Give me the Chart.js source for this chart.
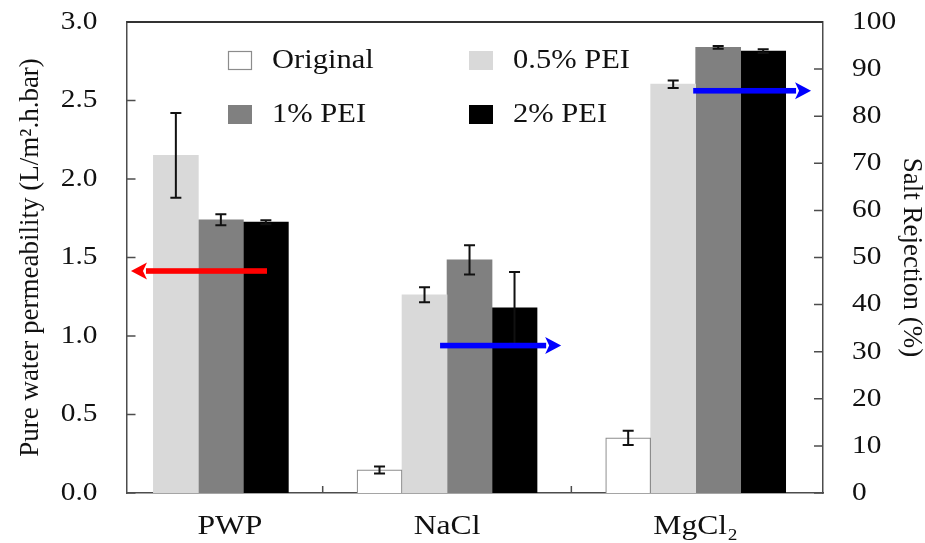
<!DOCTYPE html>
<html><head><meta charset="utf-8">
<script src="https://cdn.jsdelivr.net/npm/chart.js@4/dist/chart.umd.min.js"></script>
<style>html,body{margin:0;padding:0;background:#fff}canvas{display:block}</style>
</head><body>
<canvas id="c" width="925" height="543"></canvas>
<script>
// ---------------- data ----------------
const categories = ['PWP', 'NaCl', 'MgCl₂'];
const seriesNames = ['Original', '0.5% PEI', '1% PEI', '2% PEI'];
// Pure water permeability (L/m².h.bar) – PWP group, left axis
const pwpValues = [null, 2.15, 1.74, 1.725];
const pwpErrors = [null, 0.27, 0.035, 0.013];
// Salt rejection (%) – right axis
const naclRejection = [4.9, 42.1, 49.5, 39.3];
const naclErrors = [0.75, 1.6, 3.1, 7.6];
const mgcl2Rejection = [11.7, 86.8, 94.6, 93.8];
const mgcl2Errors = [1.5, 0.8, 0.3, 0.4];
// tick labels
const leftTicks = [0, 0.5, 1, 1.5, 2, 2.5, 3];
const rightTicks = [0, 10, 20, 30, 40, 50, 60, 70, 80, 90, 100];
// annotation arrows (axis units)
const arrows = [
  { axis: 'y',  y: 1.414, from: 0.276, to: -0.271, color: '#ff0000' },
  { axis: 'y1', y: 31.3,  from: 0.972, to: 1.459,  color: '#0000ff' },
  { axis: 'y1', y: 85.4,  from: 1.99,  to: 2.464,  color: '#0000ff' }
];

// ---------------- styles ----------------
const FONT = "'Liberation Serif', 'Times New Roman', serif";
const fills = ['#ffffff', '#d9d9d9', '#808080', '#000000'];
const edges = ['#8c8c8c', '#d9d9d9', '#808080', '#000000'];
const edgeW = [1.2, 0, 0, 0];
const TEXT = '#111';

// slightly wide glyphs like the reference (horizontal text only)
const STRETCH = 1.13;
const rawFill = CanvasRenderingContext2D.prototype.fillText;
CanvasRenderingContext2D.prototype.fillText = function (t, x, y, mw) {
  const m = this.getTransform();
  if (Math.abs(m.b) > 1e-6 || Math.abs(m.c) > 1e-6) {
    return mw === undefined ? rawFill.call(this, t, x, y) : rawFill.call(this, t, x, y, mw);
  }
  this.save();
  this.translate(x, y);
  this.scale(STRETCH, 1);
  if (mw === undefined) rawFill.call(this, t, 0, 0); else rawFill.call(this, t, 0, 0, mw / STRETCH);
  this.restore();
};

const datasets = [];
seriesNames.forEach((name, s) => {
  const common = {
    stack: name,
    backgroundColor: fills[s],
    borderColor: edges[s],
    borderWidth: edgeW[s],
    barThickness: 45
  };
  datasets.push(Object.assign({
    label: name, yAxisID: 'y',
    data: [{ x: 0, y: pwpValues[s] }],
    errors: [pwpErrors[s]]
  }, common));
  datasets.push(Object.assign({
    label: name, yAxisID: 'y1',
    data: [{ x: 1, y: naclRejection[s] }, { x: 2, y: mgcl2Rejection[s] }],
    errors: [naclErrors[s], mgcl2Errors[s]]
  }, common));
});

const decor = {
  id: 'decor',
  afterDatasetsDraw(chart) {
    const ctx = chart.ctx;
    // error bars
    ctx.save();
    ctx.strokeStyle = '#111';
    ctx.lineWidth = 2;
    chart.data.datasets.forEach((ds, di) => {
      const meta = chart.getDatasetMeta(di);
      const ys = chart.scales[ds.yAxisID];
      meta.data.forEach((bar, i) => {
        const v = ds.data[i].y, e = ds.errors[i];
        if (v == null || e == null) return;
        const x = bar.x;
        const t = ys.getPixelForValue(v + e), b = ys.getPixelForValue(v - e);
        ctx.beginPath();
        ctx.moveTo(x, t); ctx.lineTo(x, b);
        ctx.moveTo(x - 5.5, t); ctx.lineTo(x + 5.5, t);
        ctx.moveTo(x - 5.5, b); ctx.lineTo(x + 5.5, b);
        ctx.stroke();
      });
    });
    ctx.restore();
    // arrows
    const xs = chart.scales.x;
    arrows.forEach(a => {
      const ys = chart.scales[a.axis];
      const y = ys.getPixelForValue(a.y);
      const x0 = xs.getPixelForValue(a.from), x1 = xs.getPixelForValue(a.to);
      const dir = Math.sign(x1 - x0);
      const headL = 16, headH = 8.5;
      ctx.save();
      ctx.fillStyle = a.color;
      ctx.fillRect(Math.min(x0, x1 - dir * headL + dir), y - 2.8, Math.abs(x1 - dir * headL - x0) + 1, 5.6);
      ctx.beginPath();
      ctx.moveTo(x1, y);
      ctx.lineTo(x1 - dir * headL, y - headH);
      ctx.lineTo(x1 - dir * (headL - 4), y);
      ctx.lineTo(x1 - dir * headL, y + headH);
      ctx.closePath();
      ctx.fill();
      ctx.restore();
    });
  },
  afterDraw(chart) {
    const ctx = chart.ctx;
    const ca = chart.chartArea;
    const yl = chart.scales.y, yr = chart.scales.y1, xs = chart.scales.x;
    ctx.save();
    ctx.strokeStyle = '#4d4d4d';
    ctx.lineWidth = 1.5;
    ctx.beginPath();
    leftTicks.forEach(v => { const p = yl.getPixelForValue(v); ctx.moveTo(ca.left, p); ctx.lineTo(ca.left + 9, p); });
    rightTicks.forEach(v => { const p = yr.getPixelForValue(v); ctx.moveTo(ca.right - 9, p); ctx.lineTo(ca.right, p); });
    for (let i = 0; i < categories.length - 1; i++) {
      const p = xs.getPixelForValue(i + 0.5);
      ctx.moveTo(p, ca.bottom); ctx.lineTo(p, ca.bottom - 7);
    }
    ctx.stroke();
    // top frame
    ctx.strokeStyle = '#333';
    ctx.lineWidth = 2;
    ctx.beginPath();
    ctx.moveTo(ca.left, ca.top); ctx.lineTo(ca.right, ca.top);
    ctx.stroke();
    // legend
    const slots = [[228, 51], [469, 51], [228, 105], [469, 105]];
    ctx.font = '27px ' + FONT;
    ctx.textAlign = 'left';
    ctx.textBaseline = 'alphabetic';
    seriesNames.forEach((name, s) => {
      const [bx, by] = slots[s];
      ctx.fillStyle = fills[s];
      ctx.fillRect(bx, by, 24, 19);
      if (s === 0) {
        ctx.strokeStyle = '#8c8c8c'; ctx.lineWidth = 1.2;
        ctx.strokeRect(bx + 0.5, by + 0.5, 23, 18);
      }
      ctx.fillStyle = TEXT;
      ctx.fillText(name, bx + 44, by + 17);
    });
    ctx.restore();
  }
};

const noPad = (sc) => { sc.paddingTop = 0; sc.paddingBottom = 0; sc.paddingLeft = 0; sc.paddingRight = 0; };

new Chart(document.getElementById('c'), {
  type: 'bar',
  data: { datasets },
  options: {
    responsive: false,
    animation: false,
    events: [],
    layout: { padding: { top: 22, left: 0, right: 0, bottom: 0 } },
    plugins: { legend: { display: false }, tooltip: { enabled: false } },
    scales: {
      x: {
        type: 'linear',
        offset: false,
        min: -0.289, max: 2.512,
        grid: { display: false, drawTicks: false },
        border: { display: true, color: '#4d4d4d', width: 1.5 },
        afterBuildTicks: (sc) => { sc.ticks = [{ value: 0.127 }, { value: 1 }, { value: 2 }]; },
        afterFit: (sc) => { sc.height = 50; noPad(sc); },
        ticks: {
          autoSkip: false, maxRotation: 0, padding: 17, color: TEXT,
          font: { family: FONT, size: 28 },
          callback: (v) => categories[Math.round(v)]
        }
      },
      y: {
        type: 'linear', position: 'left',
        min: 0, max: 3,
        grid: { display: false, drawTicks: false },
        border: { display: true, color: '#4d4d4d', width: 1.5 },
        afterBuildTicks: (sc) => { sc.ticks = leftTicks.map(v => ({ value: v })); },
        afterFit: (sc) => { sc.width = 126.5; noPad(sc); },
        ticks: { padding: 29, color: TEXT, font: { family: FONT, size: 26 }, callback: (v) => v.toFixed(1) },
        title: { display: true, text: 'Pure water permeability (L/m².h.bar)', color: TEXT,
                 font: { family: FONT, size: 27 }, padding: { top: 15, bottom: 0 } }
      },
      y1: {
        type: 'linear', position: 'right',
        min: 0, max: 100,
        grid: { display: false, drawTicks: false },
        border: { display: true, color: '#4d4d4d', width: 1.5 },
        afterBuildTicks: (sc) => { sc.ticks = rightTicks.map(v => ({ value: v })); },
        afterFit: (sc) => { sc.width = 102; noPad(sc); },
        ticks: { padding: 29, color: TEXT, font: { family: FONT, size: 26 }, callback: (v) => String(v) },
        title: { display: true, text: 'Salt Rejection (%)', color: TEXT,
                 font: { family: FONT, size: 27, lineHeight: 1.0 }, padding: { top: 0, bottom: 0 } }
      }
    }
  },
  plugins: [decor]
});
</script>
</body></html>
